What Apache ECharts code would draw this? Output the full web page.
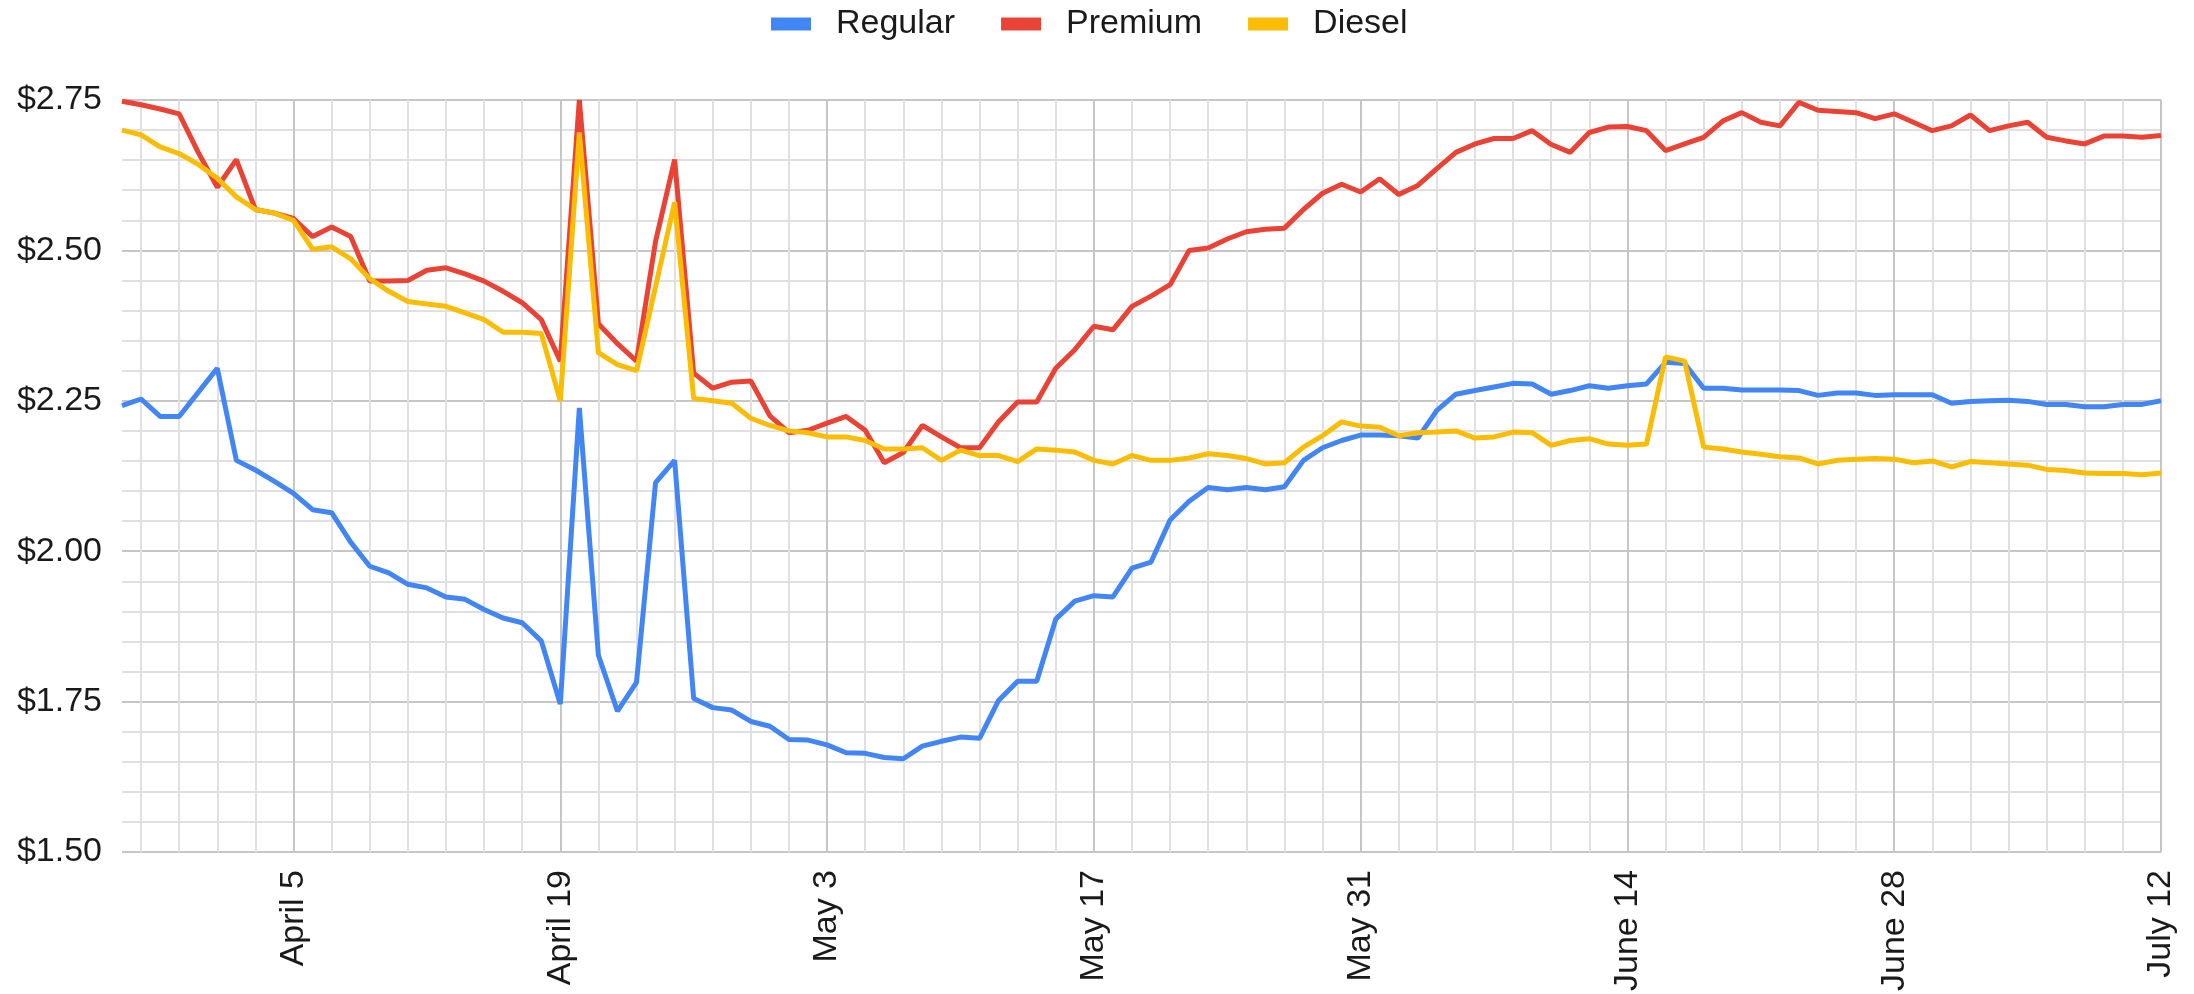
<!DOCTYPE html>
<html>
<head>
<meta charset="utf-8">
<title>Gas prices</title>
<script src="https://cdn.jsdelivr.net/npm/echarts@6/dist/echarts.min.js"></script>
<style>
  html, body { margin: 0; padding: 0; background: #fff; }
  #chart { width: 2194px; height: 994px; }
</style>
</head>
<body>
<div id="chart"></div>
<script>
// daily dates, March 27 .. July 12
const dates = [
  "March 27", "March 28", "March 29", "March 30", "March 31",
  "April 1", "April 2", "April 3", "April 4", "April 5", "April 6", "April 7", "April 8", "April 9", "April 10",
  "April 11", "April 12", "April 13", "April 14", "April 15", "April 16", "April 17", "April 18", "April 19", "April 20",
  "April 21", "April 22", "April 23", "April 24", "April 25", "April 26", "April 27", "April 28", "April 29", "April 30",
  "May 1", "May 2", "May 3", "May 4", "May 5", "May 6", "May 7", "May 8", "May 9", "May 10",
  "May 11", "May 12", "May 13", "May 14", "May 15", "May 16", "May 17", "May 18", "May 19", "May 20",
  "May 21", "May 22", "May 23", "May 24", "May 25", "May 26", "May 27", "May 28", "May 29", "May 30", "May 31",
  "June 1", "June 2", "June 3", "June 4", "June 5", "June 6", "June 7", "June 8", "June 9", "June 10",
  "June 11", "June 12", "June 13", "June 14", "June 15", "June 16", "June 17", "June 18", "June 19", "June 20",
  "June 21", "June 22", "June 23", "June 24", "June 25", "June 26", "June 27", "June 28", "June 29", "June 30",
  "July 1", "July 2", "July 3", "July 4", "July 5", "July 6", "July 7", "July 8", "July 9", "July 10",
  "July 11", "July 12"
];

// labelled ticks on the x axis
const tickLabels = ["April 5", "April 19", "May 3", "May 17", "May 31", "June 14", "June 28", "July 12"];

const regular = [
  2.242, 2.253, 2.224, 2.224, 2.264, 2.304, 2.151, 2.135, 2.116, 2.096, 2.069, 2.064, 2.015, 1.975, 1.964, 1.945, 1.939, 1.924, 1.920,
  1.903, 1.889, 1.881, 1.851, 1.746, 2.238, 1.827, 1.734, 1.782, 2.114, 2.151, 1.755, 1.740, 1.736, 1.717, 1.709, 1.687,
  1.686, 1.678, 1.665, 1.664, 1.657, 1.655, 1.676, 1.684, 1.691, 1.689, 1.752, 1.784, 1.784, 1.887, 1.917, 1.926, 1.924, 1.972,
  1.982, 2.052, 2.083, 2.106, 2.102, 2.106, 2.102, 2.107, 2.151, 2.172, 2.184, 2.193, 2.193, 2.192, 2.188, 2.234, 2.261, 2.267,
  2.273, 2.279, 2.278, 2.261, 2.267, 2.275, 2.271, 2.275, 2.278, 2.314, 2.312, 2.271, 2.271, 2.268, 2.268, 2.268, 2.267, 2.259,
  2.263, 2.263, 2.259, 2.260, 2.260, 2.260, 2.246, 2.249, 2.250, 2.251, 2.249, 2.244, 2.244, 2.240, 2.240, 2.244, 2.244, 2.250
];

const premium = [
  2.748, 2.742, 2.735, 2.727, 2.663, 2.605, 2.651, 2.568, 2.562, 2.553, 2.523, 2.539, 2.523, 2.449, 2.449, 2.450, 2.467, 2.471, 2.461,
  2.449, 2.432, 2.413, 2.385, 2.316, 2.750, 2.378, 2.345, 2.316, 2.515, 2.651, 2.296, 2.271, 2.281, 2.283, 2.225, 2.197,
  2.201, 2.213, 2.224, 2.201, 2.147, 2.164, 2.209, 2.190, 2.172, 2.172, 2.215, 2.248, 2.248, 2.304, 2.335, 2.374, 2.368, 2.407,
  2.424, 2.443, 2.500, 2.504, 2.519, 2.531, 2.535, 2.537, 2.568, 2.595, 2.610, 2.597, 2.619, 2.593, 2.608, 2.636, 2.663, 2.677,
  2.686, 2.686, 2.699, 2.676, 2.663, 2.696, 2.705, 2.706, 2.699, 2.666, 2.677, 2.688, 2.715, 2.729, 2.713, 2.707, 2.746, 2.733,
  2.731, 2.729, 2.719, 2.727, 2.713, 2.699, 2.707, 2.725, 2.699, 2.707, 2.713, 2.688, 2.682, 2.677, 2.690, 2.690, 2.688, 2.691
];

const diesel = [
  2.700, 2.692, 2.672, 2.661, 2.643, 2.620, 2.589, 2.568, 2.562, 2.550, 2.502, 2.506, 2.486, 2.453, 2.432, 2.415, 2.411, 2.407, 2.396,
  2.385, 2.364, 2.364, 2.362, 2.250, 2.696, 2.330, 2.310, 2.300, 2.440, 2.580, 2.254, 2.250, 2.246, 2.221, 2.209, 2.200,
  2.197, 2.190, 2.190, 2.184, 2.170, 2.170, 2.172, 2.151, 2.168, 2.159, 2.159, 2.149, 2.170, 2.168, 2.165, 2.151, 2.145, 2.159,
  2.151, 2.151, 2.155, 2.162, 2.159, 2.154, 2.145, 2.147, 2.173, 2.192, 2.215, 2.208, 2.206, 2.192, 2.197, 2.198, 2.200, 2.188,
  2.190, 2.198, 2.197, 2.176, 2.184, 2.187, 2.178, 2.176, 2.178, 2.323, 2.316, 2.173, 2.170, 2.165, 2.161, 2.157, 2.155, 2.145,
  2.151, 2.153, 2.154, 2.153, 2.147, 2.150, 2.140, 2.149, 2.147, 2.145, 2.143, 2.136, 2.134, 2.130, 2.129, 2.129, 2.127, 2.130
];

const FONT = '"Liberation Sans", Arial, sans-serif';
const TEXT_COLOR = "#1a1a1a";

const chart = echarts.init(document.getElementById("chart"));

const isMajor = (i, v) => tickLabels.includes(v);

const option = {
  backgroundColor: "#ffffff",
  animation: false,
  textStyle: { fontFamily: FONT },
  legend: {
    left: 766,
    top: 2,
    icon: "rect",
    itemWidth: 40,
    itemHeight: 13,
    itemGap: 46,
    textStyle: {
      fontSize: 34,
      color: TEXT_COLOR,
      fontFamily: FONT,
      padding: [0, 0, 0, 20],
    },
    data: ["Regular", "Premium", "Diesel"],
  },
  grid: {
    left: 122,
    right: 33,
    top: 100,
    bottom: 142,
    containLabel: false,
  },
  xAxis: [
    {
      // minor lines every two days + labels
      type: "category",
      data: dates,
      boundaryGap: false,
      axisLine: { show: false },
      axisTick: { show: false },
      axisLabel: {
        interval: isMajor,
        rotate: 90,
        margin: 18,
        fontSize: 34,
        color: TEXT_COLOR,
        fontFamily: FONT,
      },
      splitLine: {
        show: true,
        interval: (i) => i % 2 === 1,
        lineStyle: { color: "#e0e0e0", width: 2 },
      },
    },
    {
      // major lines at the labelled dates
      type: "category",
      data: dates,
      boundaryGap: false,
      position: "bottom",
      axisLine: { show: false },
      axisTick: { show: false },
      axisLabel: { show: false },
      splitLine: {
        show: true,
        interval: isMajor,
        lineStyle: { color: "#c6c6c6", width: 2 },
      },
    },
  ],
  yAxis: {
    type: "value",
    min: 1.5,
    max: 2.75,
    interval: 0.25,
    axisLine: { show: false },
    axisTick: { show: false },
    axisLabel: {
      margin: 20,
      fontSize: 34,
      color: TEXT_COLOR,
      fontFamily: FONT,
      formatter: (v) => "$" + v.toFixed(2),
    },
    splitLine: { lineStyle: { color: "#c6c6c6", width: 2 } },
    minorTick: { show: false, splitNumber: 5 },
    minorSplitLine: { show: true, lineStyle: { color: "#e0e0e0", width: 2 } },
  },
  series: [
    { name: "Regular", data: regular, color: "#4285f4" },
    { name: "Premium", data: premium, color: "#ea4335" },
    { name: "Diesel", data: diesel, color: "#fbbc04" },
  ].map((s) => ({
    name: s.name,
    type: "line",
    data: s.data,
    showSymbol: false,
    symbol: "none",
    itemStyle: { color: s.color },
    lineStyle: { color: s.color, width: 5 },
  })),
};

chart.setOption(option);
</script>
</body>
</html>
